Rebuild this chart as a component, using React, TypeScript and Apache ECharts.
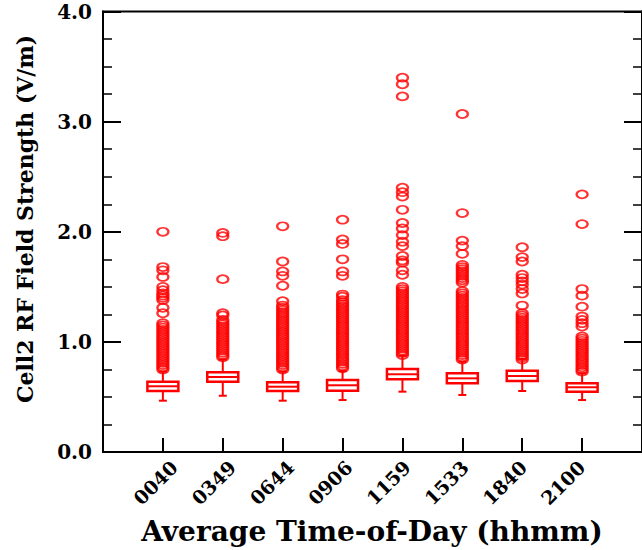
import React, { useEffect, useRef } from "react";
import * as echarts from "echarts";

// Categories (average time-of-day, hhmm)
const categories = ["0040", "0349", "0644", "0906", "1159", "1533", "1840", "2100"];

// Box statistics (V/m)
const lowWhisker = [0.466, 0.511, 0.466, 0.472, 0.548, 0.518, 0.554, 0.472];
const q1Values = [0.554, 0.639, 0.554, 0.557, 0.66, 0.624, 0.645, 0.548];
const medianValues = [0.597, 0.681, 0.593, 0.606, 0.706, 0.669, 0.69, 0.588];
const q3Values = [0.639, 0.724, 0.633, 0.654, 0.754, 0.715, 0.738, 0.624];
const highWhisker = [0.73, 0.84, 0.73, 0.735, 0.875, 0.82, 0.845, 0.715];

// Outliers per category (V/m)
const out0040 = [2.0, 1.68, 1.65, 1.59, 1.5, 1.47, 1.44, 1.42, 1.4, 1.38, 1.31, 1.26, 1.17, 1.15, 1.13, 1.11, 1.09, 1.07, 1.05, 1.03, 1.01, 0.99, 0.97, 0.95, 0.93, 0.91, 0.89, 0.87, 0.85, 0.83, 0.81, 0.79, 0.77, 0.75];
const out0349 = [1.99, 1.96, 1.57, 1.26, 1.24, 1.2, 1.18, 1.16, 1.14, 1.12, 1.1, 1.08, 1.06, 1.04, 1.02, 1.0, 0.98, 0.96, 0.94, 0.92, 0.9, 0.88, 0.86];
const out0644 = [2.05, 1.73, 1.64, 1.6, 1.51, 1.37, 1.33, 1.31, 1.29, 1.27, 1.25, 1.23, 1.21, 1.19, 1.17, 1.15, 1.13, 1.11, 1.09, 1.07, 1.05, 1.03, 1.01, 0.99, 0.97, 0.95, 0.93, 0.91, 0.89, 0.87, 0.85, 0.83, 0.81, 0.79, 0.77, 0.75];
const out0906 = [2.11, 1.93, 1.89, 1.75, 1.64, 1.6, 1.43, 1.41, 1.38, 1.36, 1.34, 1.32, 1.3, 1.28, 1.26, 1.24, 1.22, 1.2, 1.18, 1.16, 1.14, 1.12, 1.1, 1.08, 1.06, 1.04, 1.02, 1.0, 0.98, 0.96, 0.94, 0.92, 0.9, 0.88, 0.86, 0.84, 0.82, 0.8, 0.78, 0.76];
const out1159 = [3.4, 3.34, 3.23, 2.4, 2.36, 2.32, 2.2, 2.08, 2.03, 1.97, 1.91, 1.87, 1.78, 1.74, 1.72, 1.65, 1.61, 1.5, 1.48, 1.46, 1.44, 1.42, 1.4, 1.38, 1.36, 1.34, 1.32, 1.3, 1.28, 1.26, 1.24, 1.22, 1.2, 1.18, 1.16, 1.14, 1.12, 1.1, 1.08, 1.06, 1.04, 1.02, 1.0, 0.98, 0.96, 0.94, 0.92, 0.9, 0.88];
const out1533 = [3.07, 2.17, 1.92, 1.87, 1.8, 1.7, 1.68, 1.66, 1.64, 1.62, 1.6, 1.58, 1.56, 1.54, 1.46, 1.44, 1.42, 1.4, 1.38, 1.36, 1.34, 1.32, 1.3, 1.28, 1.26, 1.24, 1.22, 1.2, 1.18, 1.16, 1.14, 1.12, 1.1, 1.08, 1.06, 1.04, 1.02, 1.0, 0.98, 0.96, 0.94, 0.92, 0.9, 0.88, 0.86, 0.84];
const out1840 = [1.86, 1.77, 1.73, 1.61, 1.58, 1.55, 1.52, 1.48, 1.44, 1.33, 1.26, 1.24, 1.22, 1.2, 1.18, 1.16, 1.14, 1.12, 1.1, 1.08, 1.06, 1.04, 1.02, 1.0, 0.98, 0.96, 0.94, 0.92, 0.9, 0.88, 0.86, 0.84];
const out2100 = [2.34, 2.07, 1.48, 1.42, 1.32, 1.23, 1.2, 1.17, 1.14, 1.05, 1.03, 1.01, 0.99, 0.97, 0.95, 0.93, 0.91, 0.89, 0.87, 0.85, 0.83, 0.81, 0.79, 0.77, 0.75, 0.73];
const outliers = [out0040, out0349, out0644, out0906, out1159, out1533, out1840, out2100];

// Y axis
const yMin = 0;
const yMax = 4;
const yInterval = 1;

const yTitle = "Cell2 RF Field Strength (V/m)";
const xTitle = "Average Time-of-Day (hhmm)";

const RED = "#ff0000";
const FONT = "DejaVu Serif";

export default function App() {
  const ref = useRef<HTMLDivElement>(null);

  useEffect(() => {
    if (!ref.current) return;
    const chart = echarts.init(ref.current, null, { renderer: "svg" });

    const axisData = ["", ...categories, ""];
    const boxData = categories.map((_, i) => [
      i + 1,
      lowWhisker[i],
      q1Values[i],
      medianValues[i],
      q3Values[i],
      highWhisker[i],
    ]);
    const outlierData: number[][] = [];
    outliers.forEach((arr, i) => arr.forEach((v) => outlierData.push([i + 1, v])));

    const boxW = 31;
    const capW = 8;

    const gridTop = 11.6;
    const gridH = 440.4;
    const gridW = 546;

    const option: any = {
      animation: false,
      backgroundColor: "#ffffff",
      grid: [
        {
          left: 103,
          top: gridTop,
          width: gridW,
          height: gridH,
          show: true,
          borderColor: "#000",
          borderWidth: 2,
          backgroundColor: "transparent",
        },
        {
          left: 116,
          top: gridTop,
          width: gridW,
          height: gridH,
          show: false,
        },
      ],
      xAxis: [
        {
          type: "category",
          gridIndex: 0,
          data: axisData,
          boundaryGap: false,
          position: "bottom",
          axisLine: { show: true, lineStyle: { color: "#000", width: 2 } },
          axisTick: {
            show: true,
            inside: true,
            length: 14,
            interval: (idx: number) => idx >= 1 && idx <= categories.length,
            lineStyle: { color: "#000", width: 2 },
          },
          axisLabel: { show: false },
          splitLine: { show: false },
        },
        {
          type: "category",
          gridIndex: 1,
          data: axisData,
          boundaryGap: false,
          position: "bottom",
          axisLine: { show: false },
          axisTick: { show: false },
          splitLine: { show: false },
          axisLabel: {
            show: true,
            interval: 0,
            rotate: 45,
            margin: 12,
            color: "#000",
            fontFamily: FONT,
            fontWeight: "bold",
            fontSize: 19,
          },
        },
      ],
      yAxis: [
        {
          type: "value",
          gridIndex: 0,
          min: yMin,
          max: yMax,
          interval: yInterval,
          position: "left",
          axisLine: { show: true, lineStyle: { color: "#000", width: 2 } },
          axisTick: { show: true, inside: true, length: 18, lineStyle: { color: "#000", width: 2 } },
          minorTick: { show: true, splitNumber: 4, length: 9, lineStyle: { color: "#000", width: 1.5 } },
          splitLine: { show: false },
          minorSplitLine: { show: false },
          axisLabel: {
            show: true,
            margin: 11,
            color: "#000",
            fontFamily: FONT,
            fontWeight: "bold",
            fontSize: 20,
            formatter: (v: number) => v.toFixed(1),
          },
        },
        {
          type: "value",
          gridIndex: 0,
          min: yMin,
          max: yMax,
          interval: yInterval,
          position: "right",
          axisLine: { show: true, lineStyle: { color: "#000", width: 2 } },
          axisTick: { show: true, inside: true, length: 18, lineStyle: { color: "#000", width: 2 } },
          minorTick: { show: true, splitNumber: 4, length: 9, lineStyle: { color: "#000", width: 1.5 } },
          splitLine: { show: false },
          minorSplitLine: { show: false },
          axisLabel: { show: false },
        },
        {
          type: "value",
          gridIndex: 1,
          min: yMin,
          max: yMax,
          show: false,
        },
      ],
      series: [
        {
          type: "scatter",
          xAxisIndex: 0,
          yAxisIndex: 0,
          data: outlierData,
          symbol: "circle",
          symbolSize: [11, 8],
          itemStyle: { color: "transparent", borderColor: RED, borderWidth: 2 },
          z: 2,
        },
        {
          type: "custom",
          xAxisIndex: 0,
          yAxisIndex: 0,
          data: boxData,
          encode: { x: 0, y: [1, 2, 3, 4, 5] },
          z: 3,
          renderItem: (params: any, api: any) => {
            const idx = api.value(0);
            const pLow = api.coord([idx, api.value(1)]);
            const pQ1 = api.coord([idx, api.value(2)]);
            const pMed = api.coord([idx, api.value(3)]);
            const pQ3 = api.coord([idx, api.value(4)]);
            const pHigh = api.coord([idx, api.value(5)]);
            const x = pLow[0];
            const ls = { stroke: RED, lineWidth: 2, fill: "none" };
            return {
              type: "group",
              children: [
                { type: "line", shape: { x1: x, y1: pLow[1], x2: x, y2: pQ1[1] }, style: ls },
                { type: "line", shape: { x1: x - capW / 2, y1: pLow[1], x2: x + capW / 2, y2: pLow[1] }, style: ls },
                { type: "line", shape: { x1: x, y1: pQ3[1], x2: x, y2: pHigh[1] }, style: ls },
                { type: "line", shape: { x1: x - capW / 2, y1: pHigh[1], x2: x + capW / 2, y2: pHigh[1] }, style: ls },
                {
                  type: "rect",
                  shape: { x: x - boxW / 2, y: pQ3[1], width: boxW, height: pQ1[1] - pQ3[1] },
                  style: { fill: "#ffffff", stroke: RED, lineWidth: 2.5 },
                },
                { type: "line", shape: { x1: x - boxW / 2, y1: pMed[1], x2: x + boxW / 2, y2: pMed[1] }, style: ls },
              ],
            };
          },
        },
      ],
      graphic: [
        {
          type: "text",
          x: 25,
          y: 219,
          rotation: Math.PI / 2,
          style: {
            text: yTitle,
            fill: "#000",
            font: `bold 22px "${FONT}"`,
            textAlign: "center",
            textVerticalAlign: "middle",
          },
        },
        {
          type: "text",
          x: 372,
          y: 531,
          style: {
            text: xTitle,
            fill: "#000",
            font: `bold 28px "${FONT}"`,
            textAlign: "center",
            textVerticalAlign: "middle",
          },
        },
      ],
    };

    chart.setOption(option);
    return () => chart.dispose();
  }, []);

  return (
    <div
      ref={ref}
      style={{ position: "fixed", left: 0, top: 0, width: 642, height: 550, background: "#fff" }}
    />
  );
}
